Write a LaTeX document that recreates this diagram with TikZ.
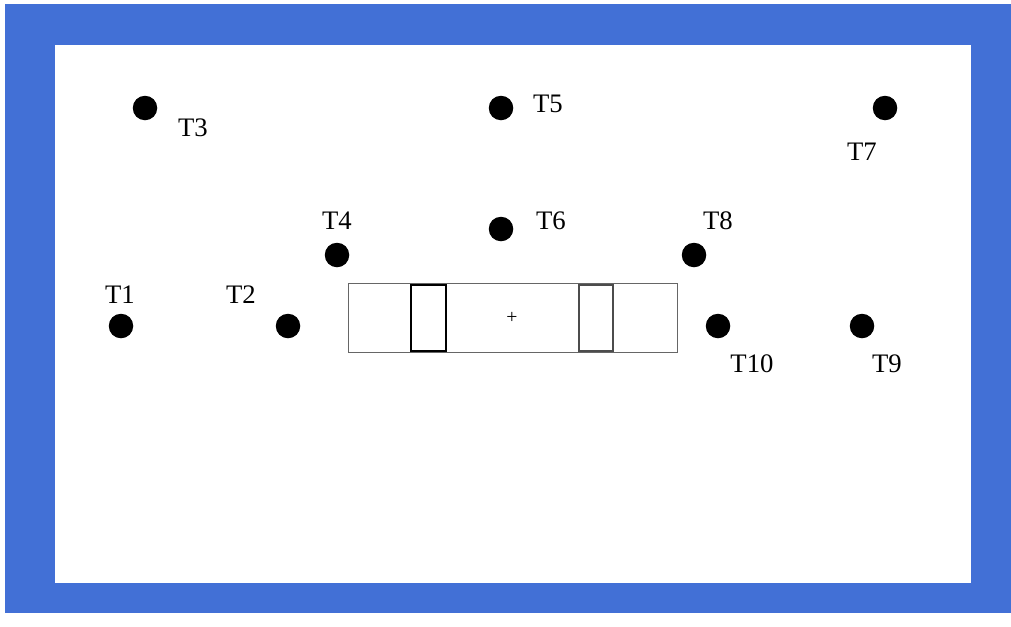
\documentclass[tikz,border=0pt]{standalone}
\usepackage{fontspec}
\setmainfont{Liberation Serif}
\usepackage{tikz}
\definecolor{frameblue}{RGB}{66,112,214}

\begin{document}
\begin{tikzpicture}[x=0.025cm,y=-0.025cm,
  sensor/.style={fill=black,circle,inner sep=0pt,minimum size=24.5*0.025cm},
  tag/.style={inner sep=0pt,font=\fontsize{19}{22}\selectfont}]
\useasboundingbox (0,0) rectangle (1011,626);
\fill[white] (0,0) rectangle (1011,626);
\fill[frameblue] (5,4) rectangle (1011,613);
\fill[white] (55,45) rectangle (971,583);
% specimen
\draw[gray!80!black,line width=0.6pt] (348,283) rectangle (677,352);
\draw[black,line width=1.6pt] (411,285) rectangle (446,351);
\draw[black!70,line width=1.6pt] (579,285) rectangle (613,351);
\node[inner sep=0pt,font=\fontsize{14}{14}\selectfont] (mid) at (512,318) {+};
% sensors
\node[sensor] (t1) at (121,326) {};
\node[sensor] (t2) at (288,326) {};
\node[sensor] (t3) at (145,108) {};
\node[sensor] (t4) at (337,255) {};
\node[sensor] (t5) at (501,108) {};
\node[sensor] (t6) at (501,229) {};
\node[sensor] (t7) at (885,108) {};
\node[sensor] (t8) at (694,255) {};
\node[sensor] (t9) at (862,326) {};
\node[sensor] (t10) at (718,326) {};
\node[tag] (l1) at (120,295) {T1};
\node[tag] (l2) at (241,295) {T2};
\node[tag] (l3) at (193,128) {T3};
\node[tag] (l4) at (337,221) {T4};
\node[tag] (l5) at (548,104) {T5};
\node[tag] (l6) at (551,221) {T6};
\node[tag] (l7) at (862,152) {T7};
\node[tag] (l8) at (718,221) {T8};
\node[tag] (l9) at (887,364) {T9};
\node[tag] (l10) at (752,364) {T10};
\end{tikzpicture}
\end{document}
